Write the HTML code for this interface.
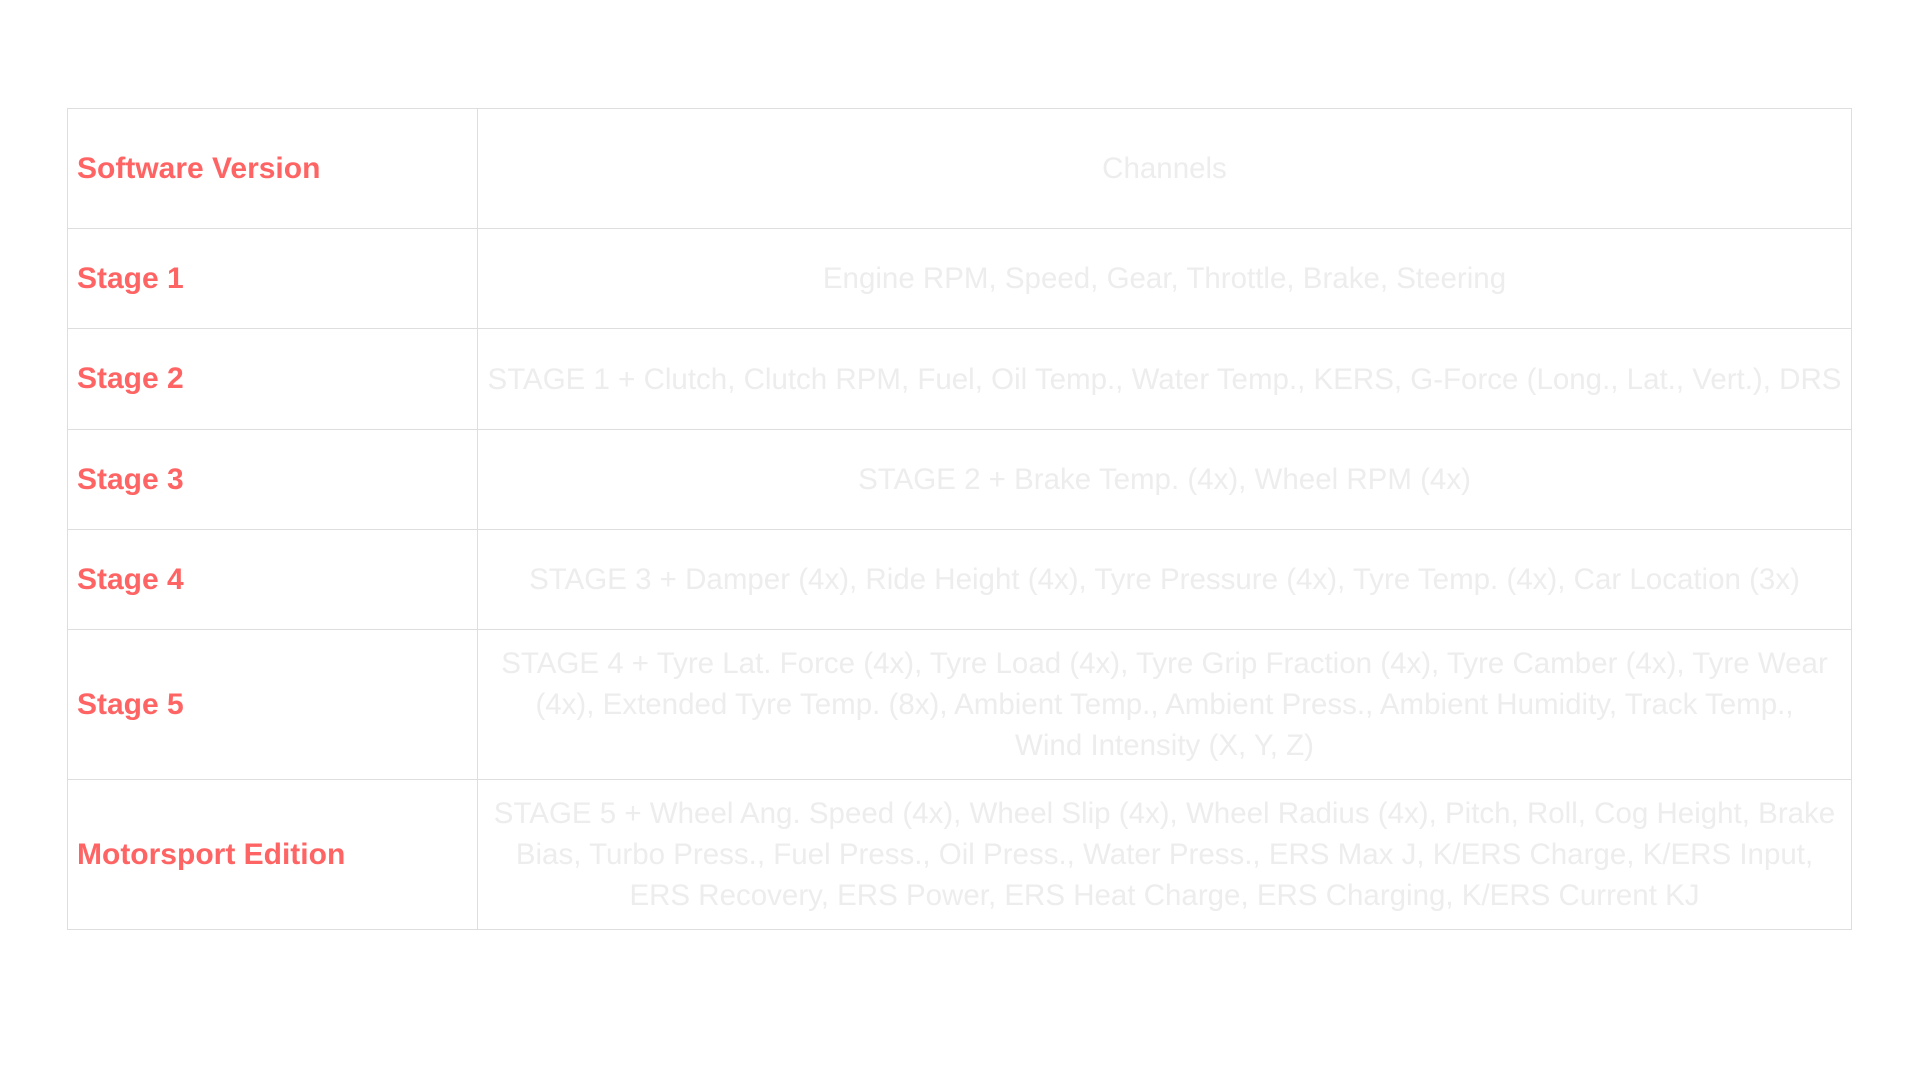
<!DOCTYPE html>
<html><head><meta charset="utf-8"><style>
html,body{margin:0;padding:0;background:#fff;width:1920px;height:1080px;overflow:hidden}
table{position:absolute;left:67px;top:108px;width:1785px;border-collapse:collapse;font-family:"Liberation Sans",sans-serif}
td{border:1.5px solid #dedede;padding:0;vertical-align:middle}
td.h{width:400px;padding-left:9px;color:#ff6464;font-weight:bold;font-size:30px}
td.c{text-align:center;color:#ededed;font-size:29.5px;line-height:41px;white-space:nowrap}
</style></head><body>
<table>
<tr style="height:120px"><td class="h">Software Version</td><td class="c">Channels</td></tr>
<tr style="height:100px"><td class="h">Stage 1</td><td class="c">Engine RPM, Speed, Gear, Throttle, Brake, Steering</td></tr>
<tr style="height:101px"><td class="h">Stage 2</td><td class="c">STAGE 1 + Clutch, Clutch RPM, Fuel, Oil Temp., Water Temp., KERS, G-Force (Long., Lat., Vert.), DRS</td></tr>
<tr style="height:100px"><td class="h">Stage 3</td><td class="c">STAGE 2 + Brake Temp. (4x), Wheel RPM (4x)</td></tr>
<tr style="height:100px"><td class="h">Stage 4</td><td class="c">STAGE 3 + Damper (4x), Ride Height (4x), Tyre Pressure (4x), Tyre Temp. (4x), Car Location (3x)</td></tr>
<tr style="height:150px"><td class="h">Stage 5</td><td class="c">STAGE 4 + Tyre Lat. Force (4x), Tyre Load (4x), Tyre Grip Fraction (4x), Tyre Camber (4x), Tyre Wear<br>(4x), Extended Tyre Temp. (8x), Ambient Temp., Ambient Press., Ambient Humidity, Track Temp.,<br>Wind Intensity (X, Y, Z)</td></tr>
<tr style="height:150px"><td class="h">Motorsport Edition</td><td class="c">STAGE 5 + Wheel Ang. Speed (4x), Wheel Slip (4x), Wheel Radius (4x), Pitch, Roll, Cog Height, Brake<br>Bias, Turbo Press., Fuel Press., Oil Press., Water Press., ERS Max J, K/ERS Charge, K/ERS Input,<br>ERS Recovery, ERS Power, ERS Heat Charge, ERS Charging, K/ERS Current KJ</td></tr>
</table>
</body></html>
